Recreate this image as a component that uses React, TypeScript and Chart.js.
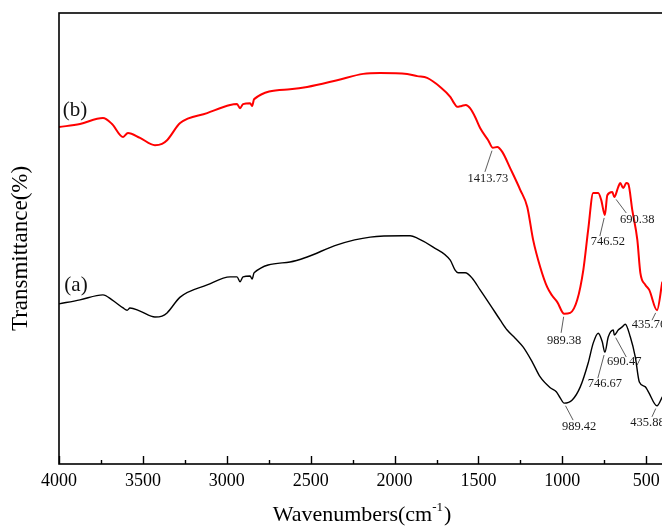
import { useEffect, useRef } from "react";
import { Chart, registerables } from "chart.js";

Chart.register(...registerables);

const SERIF = "'Liberation Serif', 'Times New Roman', Times, serif";

// Sample (b): red spectrum
const sampleBWavenumbers = [
  4000, 3875, 3738, 3684, 3618, 3589, 3517, 3428, 3386, 3356, 3278, 3117, 2980, 2939, 2921, 2903,
  2861, 2849, 2837, 2623, 2521, 2342, 2187, 2086, 1925, 1865, 1806, 1728, 1668, 1650, 1627, 1600,
  1575, 1550, 1519, 1490, 1442, 1413.73, 1388, 1358, 1311, 1251, 1209, 1174, 1132, 1090, 1060, 1030,
  989.38, 953, 911, 875, 846, 816, 786, 768, 746.52, 732, 702, 690.38, 667, 655, 637, 619, 607, 583,
  553, 535, 505, 482, 435.76, 404,
];
const sampleBTransmittance = [
  74.7, 75.4, 76.7, 75.4, 72.5, 73.4, 72.3, 70.7, 71.0, 71.8, 75.6, 77.8, 79.6, 79.8, 78.9, 79.8,
  80.0, 79.4, 80.9, 83.1, 83.6, 85.1, 86.5, 86.7, 86.5, 86.0, 85.6, 83.6, 81.4, 80.3, 79.2, 79.4,
  79.6, 78.9, 76.9, 74.5, 71.8, 70.1, 70.3, 69.2, 65.6, 60.8, 57.0, 49.7, 43.7, 39.2, 37.3, 35.9,
  33.3, 33.5, 36.4, 43.0, 51.9, 60.1, 60.1, 58.5, 55.2, 59.6, 60.3, 59.2, 61.4, 62.3, 61.2, 62.3, 62.1, 56.3,
  49.7, 42.4, 39.7, 38.6, 34.1, 40.4,
];

// Sample (a): black spectrum
const sampleAWavenumbers = [
  4000, 3875, 3738, 3684, 3618, 3594, 3577, 3517, 3428, 3386, 3356, 3278, 3117, 2980, 2939, 2921,
  2903, 2861, 2849, 2837, 2623, 2521, 2342, 2145, 1949, 1907, 1865, 1770, 1668, 1639, 1621, 1579,
  1537, 1490, 1430, 1370, 1329, 1281, 1233, 1179, 1132, 1072, 1036, 1012, 989.42, 941, 893, 846,
  816, 786, 762, 746.67, 726, 696, 690.47, 667, 643, 625, 595, 565, 541, 505, 487, 435.88, 404,
];
const sampleATransmittance = [
  35.5, 36.4, 37.5, 36.4, 34.6, 34.1, 34.6, 33.9, 32.6, 32.8, 33.5, 37.0, 39.7, 41.5, 41.5, 40.4,
  41.5, 41.7, 41.0, 42.4, 44.8, 45.9, 48.6, 50.3, 50.6, 50.6, 50.1, 48.1, 45.2, 43.0, 42.4, 42.4,
  41.2, 38.6, 35.3, 31.9, 29.7, 27.9, 25.9, 22.6, 19.3, 16.9, 16.0, 14.6, 13.5, 14.2, 17.1, 22.4,
  26.8, 29.0, 27.1, 24.8, 28.2, 29.7, 28.6, 29.7, 30.4, 31.0, 28.2, 23.7, 18.2, 17.1, 16.0, 12.9, 14.9,
];

const majorTickValues = [4000, 3500, 3000, 2500, 2000, 1500, 1000, 500];
const minorTickValues = [3750, 3250, 2750, 2250, 1750, 1250, 750];

const seriesNames = ["(b)", "(a)"];

// Peak annotations: dataset index, wavenumber, leader end and text centre offsets (px) from the peak
const peakDataset = [0, 0, 0, 0, 0, 1, 1, 1, 1];
const peakWavenumbers = [1413.73, 746.52, 690.38, 989.38, 435.76, 989.42, 746.67, 690.47, 435.88];
const peakLeaderOffsets = [
  [-8, 24], [-5, 21], [12, 16], [-3, 19], [-5, 10], [9, 17], [-7, 26], [12, 22], [-5, 11],
];
const peakTextOffsets = [
  [-5, 31], [3, 27], [23, 23], [0, 27], [-8, 15], [15, 24], [0, 32], [10, 27], [-9.5, 17],
];

const toPoints = (xs: number[], ys: number[]) => xs.map((x, i) => ({ x, y: ys[i] }));

const decorPlugin = {
  id: "ftirDecor",
  afterDatasetsDraw(chart: any) {
    const { ctx, chartArea, scales } = chart;
    const { left, right, top, bottom } = chartArea;
    const xs = scales.x;
    const ys = scales.y;
    ctx.save();

    // peak labels with leader lines
    ctx.font = `12.5px ${SERIF}`;
    ctx.textAlign = "center";
    ctx.textBaseline = "middle";
    peakWavenumbers.forEach((w, i) => {
      const ds = chart.data.datasets[peakDataset[i]].data as { x: number; y: number }[];
      const pt = ds.find((p) => p.x === w);
      if (!pt) return;
      const px = xs.getPixelForValue(pt.x);
      const py = ys.getPixelForValue(pt.y);
      const [lx, ly] = peakLeaderOffsets[i];
      const [tx, ty] = peakTextOffsets[i];
      const len = Math.hypot(lx, ly);
      ctx.strokeStyle = "#333";
      ctx.lineWidth = 0.8;
      ctx.beginPath();
      ctx.moveTo(px + (lx / len) * 3, py + (ly / len) * 3);
      ctx.lineTo(px + lx, py + ly);
      ctx.stroke();
      ctx.fillStyle = "#1a1a1a";
      ctx.fillText(w.toFixed(2), px + tx, py + ty);
    });

    // series names next to the start of each curve
    ctx.font = `21px ${SERIF}`;
    ctx.fillStyle = "#111";
    const nameOffsets = [[16, -17], [17, -18]];
    seriesNames.forEach((name, i) => {
      const first = chart.data.datasets[i].data[0];
      const px = xs.getPixelForValue(first.x);
      const py = ys.getPixelForValue(first.y);
      ctx.fillText(name, px + nameOffsets[i][0], py + nameOffsets[i][1]);
    });

    // frame
    ctx.strokeStyle = "#000";
    ctx.lineWidth = 1.6;
    ctx.strokeRect(left, top, right - left, bottom - top);

    // inward tick marks on the x axis
    ctx.lineWidth = 1.4;
    ctx.beginPath();
    majorTickValues.forEach((v) => {
      const px = Math.round(xs.getPixelForValue(v)) + 0.5;
      ctx.moveTo(px, bottom);
      ctx.lineTo(px, bottom - 8);
    });
    minorTickValues.forEach((v) => {
      const px = Math.round(xs.getPixelForValue(v)) + 0.5;
      ctx.moveTo(px, bottom);
      ctx.lineTo(px, bottom - 4);
    });
    ctx.stroke();

    // x axis title with superscript
    ctx.fillStyle = "#000";
    ctx.textBaseline = "alphabetic";
    ctx.textAlign = "left";
    const main = "Wavenumbers(cm";
    const sup = "-1";
    const close = ")";
    ctx.font = `22px ${SERIF}`;
    const wMain = ctx.measureText(main).width;
    const wClose = ctx.measureText(close).width;
    ctx.font = `13px ${SERIF}`;
    const wSup = ctx.measureText(sup).width;
    const total = wMain + wSup + wClose + 1;
    const cx = (left + 663) / 2 + 1;
    let sx = cx - total / 2;
    const baseY = 521;
    ctx.font = `22px ${SERIF}`;
    ctx.fillText(main, sx, baseY);
    sx += wMain;
    ctx.font = `13px ${SERIF}`;
    ctx.fillText(sup, sx, baseY - 10);
    sx += wSup + 1;
    ctx.font = `22px ${SERIF}`;
    ctx.fillText(close, sx, baseY);

    // y axis title
    ctx.save();
    ctx.translate(27, (top + bottom) / 2 + 10);
    ctx.rotate(-Math.PI / 2);
    ctx.textAlign = "center";
    ctx.font = `23px ${SERIF}`;
    ctx.fillText("Transmittance(%)", 0, 0);
    ctx.restore();

    ctx.restore();
  },
};

export default function App() {
  const canvasRef = useRef<HTMLCanvasElement | null>(null);

  useEffect(() => {
    const canvas = canvasRef.current;
    if (!canvas) return;
    const chart = new Chart(canvas, {
      type: "line",
      data: {
        datasets: [
          {
            label: "(b)",
            data: toPoints(sampleBWavenumbers, sampleBTransmittance),
            borderColor: "#ff0000",
            borderWidth: 2,
            pointRadius: 0,
            cubicInterpolationMode: "monotone",
            fill: false,
          },
          {
            label: "(a)",
            data: toPoints(sampleAWavenumbers, sampleATransmittance),
            borderColor: "#000000",
            borderWidth: 1.4,
            pointRadius: 0,
            cubicInterpolationMode: "monotone",
            fill: false,
          },
        ],
      },
      options: {
        responsive: false,
        animation: false,
        devicePixelRatio: 1,
        layout: { padding: { top: 13, right: 27, left: 0, bottom: 0 } },
        plugins: { legend: { display: false }, tooltip: { enabled: false } },
        scales: {
          x: {
            type: "linear",
            reverse: true,
            min: 400,
            max: 4000,
            grid: { display: false, drawTicks: false },
            border: { display: false },
            afterBuildTicks: (scale: any) => {
              scale.ticks = majorTickValues.map((v) => ({ value: v }));
            },
            afterFit: (scale: any) => {
              scale.height = 62;
            },
            ticks: {
              autoSkip: false,
              maxRotation: 0,
              padding: 6,
              color: "#000",
              font: { family: SERIF, size: 18 },
              callback: (v: any) => String(v),
            },
          },
          y: {
            min: 0,
            max: 100,
            grid: { display: false, drawTicks: false },
            border: { display: false },
            ticks: { display: false },
            afterFit: (scale: any) => {
              scale.width = 59;
            },
          },
        },
      },
      plugins: [decorPlugin],
    });
    return () => chart.destroy();
  }, []);

  return (
    <div
      style={{
        position: "fixed",
        left: 0,
        top: 0,
        width: 662,
        height: 526,
        overflow: "hidden",
        background: "#fff",
      }}
    >
      <canvas ref={canvasRef} width={690} height={526} style={{ display: "block", width: 690, height: 526 }} />
    </div>
  );
}
